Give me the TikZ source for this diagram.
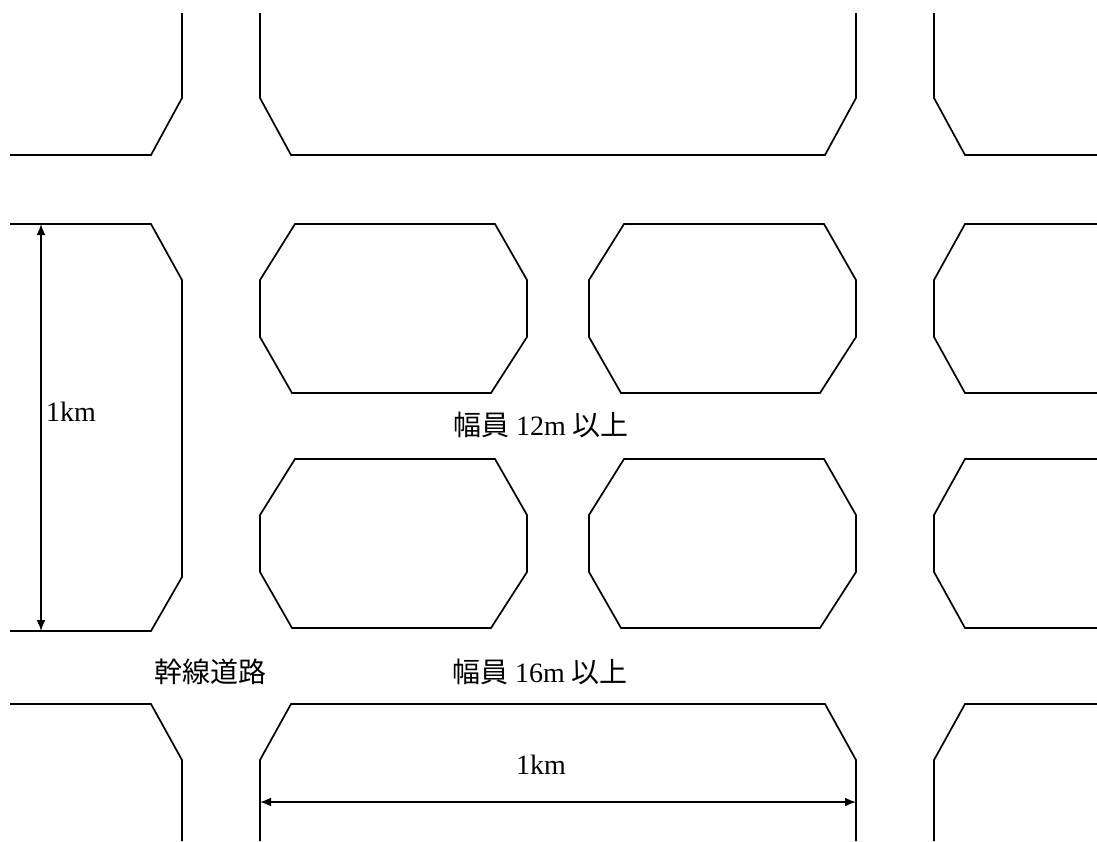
\documentclass[tikz,border=0pt]{standalone}
\usepackage{fontspec}
\setmainfont{Liberation Serif}
\newfontfamily\jpfont{Noto Sans CJK JP}
\usetikzlibrary{arrows.meta}
\begin{document}
\begin{tikzpicture}[x=1pt,y=-1pt,
  edge/.style={line width=1.7pt, line join=miter},
  dimline/.style={line width=1.7pt, {Latex[length=11pt,width=9pt]}-{Latex[length=11pt,width=9pt]}},
  lbl/.style={inner sep=0pt, font=\fontsize{28}{32}\selectfont}]
\useasboundingbox (0,0) rectangle (1097,841);
% top row
\draw[edge] (10,155) -- (151,155) -- (182,98) -- (182,13);
\draw[edge] (260,13) -- (260,98) -- (291,155) -- (825,155) -- (856,98) -- (856,13);
\draw[edge] (934,13) -- (934,98) -- (965,155) -- (1097,155);
% left tall block
\draw[edge] (10,224) -- (151,224) -- (182,280) -- (182,577) -- (151,631) -- (10,631);
% inner blocks
\foreach \dx in {0,329}{
  \foreach \dy in {0,235}{
    \begin{scope}[shift={(\dx,\dy)}]
      \draw[edge] (295,224) -- (495,224) -- (527,280) -- (527,337) -- (491,393) -- (292,393) -- (260,337) -- (260,280) -- cycle;
    \end{scope}
  }
}
% right partial blocks
\foreach \dy in {0,235}{
  \begin{scope}[shift={(0,\dy)}]
    \draw[edge] (1097,224) -- (965,224) -- (934,280) -- (934,337) -- (965,393) -- (1097,393);
  \end{scope}
}
% bottom row
\draw[edge] (10,704) -- (151,704) -- (182,760) -- (182,841);
\draw[edge] (260,841) -- (260,760) -- (291,704) -- (825,704) -- (856,760) -- (856,841);
\draw[edge] (934,841) -- (934,760) -- (965,704) -- (1097,704);
% dimension arrows
\coordinate (vtop) at (41,224);
\coordinate (vbot) at (41,631);
\coordinate (hl) at (260,802);
\coordinate (hr) at (856,802);
\draw[dimline] (vtop) -- (vbot);
\draw[dimline] (hl) -- (hr);
% labels
\node[lbl, anchor=base west] (kmv) at (46,421) {1km};
\node[lbl, anchor=base] (kmh) at (541,774) {1km};
\node[lbl, anchor=base] (w12) at (541,435) {{\jpfont 幅員} 12m {\jpfont 以上}};
\node[lbl, anchor=base] (w16) at (540,682) {{\jpfont 幅員} 16m {\jpfont 以上}};
\node[lbl, anchor=base] (kansen) at (210,682) {\jpfont 幹線道路};
\end{tikzpicture}
\end{document}
